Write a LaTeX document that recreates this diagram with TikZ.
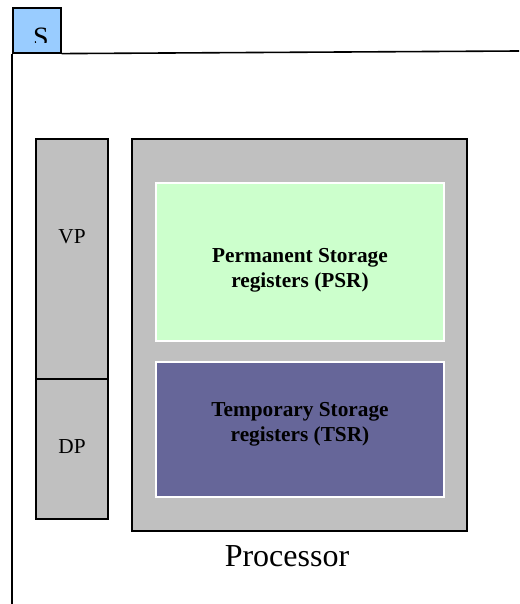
\documentclass[tikz,border=0pt]{standalone}
\usepackage{fontspec}
\setmainfont{Liberation Serif}
\definecolor{sblue}{RGB}{153,204,255}
\definecolor{pgray}{RGB}{192,192,192}
\definecolor{pgreen}{RGB}{204,255,204}
\definecolor{tpurple}{RGB}{102,102,153}
\begin{document}
\begin{tikzpicture}[x=1pt,y=-1pt,
  box/.style={draw=black,line width=1.6pt,fill=pgray,anchor=north west,inner sep=0pt,outer sep=0pt},
  reg/.style={draw=white,line width=1.2pt,anchor=north west,inner sep=0pt,outer sep=0pt},
  lbl/.style={inner sep=0pt,align=center,font=\fontsize{21.3}{25}\selectfont}]
\useasboundingbox (0,0) rectangle (519,604);
% frame
\node[draw=black,line width=1.6pt,fill=sblue,anchor=north west,inner sep=0pt,minimum width=48pt,minimum height=45pt] (sbox) at (12,7) {};
\begin{scope}
\clip (13,8) rectangle (59,43);
\node[inner sep=0pt,font=\fontsize{28}{30}\selectfont] (stext) at (41,37) {S};
\end{scope}
\coordinate (tr) at (519,51);
\coordinate (bl) at (12,604);
\draw[line width=1.6pt] (sbox.south east) -- (tr);
\draw[line width=1.6pt] (sbox.south west) -- (bl);
% VP / DP
\node[box,minimum width=72pt,minimum height=240pt] (vp) at (36,139) {};
\node[box,minimum width=72pt,minimum height=140pt] (dp) at (36,379) {};
\node[lbl] (vpt) at (72,237) {VP};
\node[lbl] (dpt) at (72,447) {DP};
% Processor
\node[box,minimum width=335pt,minimum height=392pt] (proc) at (132,139) {};
\node[reg,fill=pgreen,minimum width=288pt,minimum height=158pt] (psr) at (156,183) {};
\node[reg,fill=tpurple,minimum width=288pt,minimum height=135pt] (tsr) at (156,362) {};
\node[lbl,font=\fontsize{21.3}{25}\selectfont\bfseries] (psrt) at (300,270) {Permanent Storage\\registers (PSR)};
\node[lbl,font=\fontsize{21.3}{25}\selectfont\bfseries] (tsrt) at (300,424) {Temporary Storage\\registers (TSR)};
\node[inner sep=0pt,font=\fontsize{32}{36}\selectfont] (proct) at (287,556) {Processor};
\end{tikzpicture}
\end{document}
